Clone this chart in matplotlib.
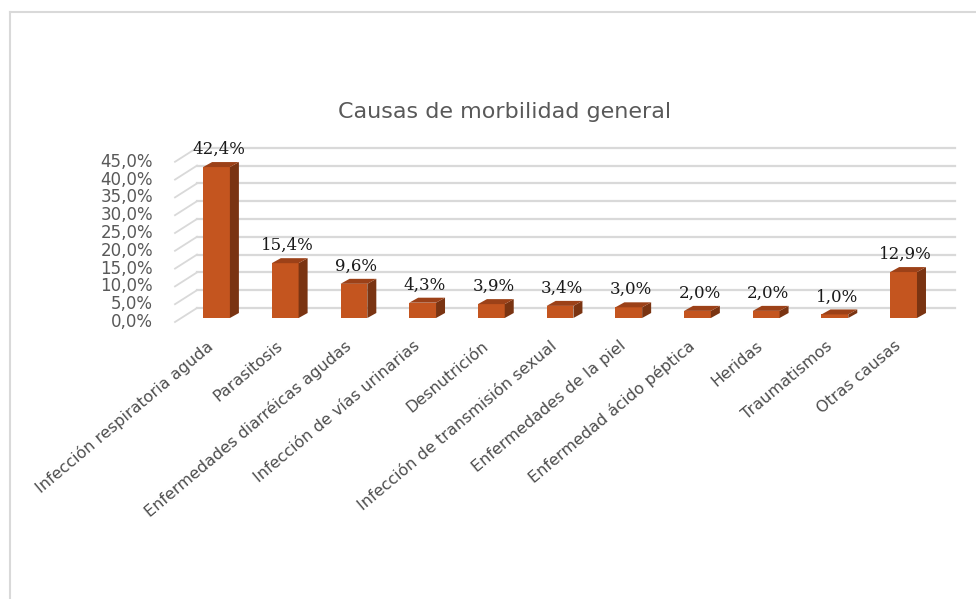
import numpy as np
import matplotlib
matplotlib.use("Agg")
import matplotlib.pyplot as plt
from matplotlib.patches import Polygon
from matplotlib.lines import Line2D
from matplotlib.transforms import IdentityTransform, offset_copy

# data
categorias = [
    "Infección respiratoria aguda",
    "Parasitosis",
    "Enfermedades diarréicas agudas",
    "Infección de vías urinarias",
    "Desnutrición",
    "Infección de transmisión sexual",
    "Enfermedades de la piel",
    "Enfermedad ácido péptica",
    "Heridas",
    "Traumatismos",
    "Otras causas",
]
porcentajes = [42.4, 15.4, 9.6, 4.3, 3.9, 3.4, 3.0, 2.0, 2.0, 1.0, 12.9]
yticks = [0, 5, 10, 15, 20, 25, 30, 35, 40, 45]

c_front = "#C4551F"
c_side = "#7A3412"
c_top = "#9C4118"
c_grid = "#D9D9D9"

W, H = 976, 599
fig = plt.figure(figsize=(W / 100, H / 100), dpi=100)
fig.patch.set_facecolor("white")

# axes = front face plane of the bars
ax = fig.add_axes([175 / W, (H - 318) / H, (940 - 175) / W, 160.2 / H])
ax.set_xlim(-0.604, 10.53)
ax.set_ylim(0, 45)
ax.patch.set_alpha(0)
for s in ax.spines.values():
    s.set_visible(False)
ax.set_xticks([])
ax.set_yticks([])

x = np.arange(len(categorias))
ancho = 0.39

# 3d offsets in pixels
bdx, bdy = 9, 5          # depth of the bars
wdx, wdy = 22, 10        # back wall
fdy = -4                 # front plane (labels)

px = ax.transData.transform
ident = IdentityTransform()

# back wall grid + diagonal side lines
x0, x1 = ax.get_xlim()
for v in yticks:
    (lx, ly), (rx, ry) = px([(x0, v), (x1, v)])
    ax.add_line(Line2D([lx, lx + wdx], [ly + fdy, ly + wdy], transform=ident,
                       color=c_grid, lw=1.3, zorder=0.5, clip_on=False))
    ax.add_line(Line2D([lx + wdx, rx + 15], [ly + wdy, ry + wdy], transform=ident,
                       color=c_grid, lw=1.6, zorder=0.5, clip_on=False))

# y labels on the front plane
tr_lab = offset_copy(ax.transData, fig=fig, x=-22, y=fdy, units="dots")
for v in yticks:
    ax.text(x0, v, f"{v:.1f}%".replace(".", ","), transform=tr_lab,
            ha="right", va="center", fontsize=12, color="#595959")

# bars
ax.bar(x, porcentajes, width=ancho, color=c_front, zorder=2)
for xi, v in zip(x, porcentajes):
    (l0, b0), (r1, t1) = px([(xi - ancho / 2, 0), (xi + ancho / 2, v)])
    lado = [(r1, b0), (r1, t1), (r1 + bdx, t1 + bdy), (r1 + bdx, b0 + bdy)]
    tapa = [(l0, t1), (r1, t1), (r1 + bdx, t1 + bdy), (l0 + bdx, t1 + bdy)]
    ax.add_patch(Polygon(lado, closed=True, transform=ident, facecolor=c_side,
                         edgecolor="none", zorder=2, clip_on=False))
    ax.add_patch(Polygon(tapa, closed=True, transform=ident, facecolor=c_top,
                         edgecolor="none", zorder=2, clip_on=False))
    ax.annotate(f"{v:.1f}%".replace(".", ","), (xi, v), xytext=(2, 13),
                textcoords="offset pixels", ha="center", va="baseline",
                family="DejaVu Serif", fontsize=12, color="#1A1A1A")

# category labels
tr_cat = offset_copy(ax.transData, fig=fig, x=-5, y=-26, units="dots")
for xi, cat in zip(x, categorias):
    ax.text(xi, 0, cat, transform=tr_cat, rotation=40, ha="right", va="center",
            rotation_mode="anchor", fontsize=11.5, color="#4D4D4D")

fig.text(505 / W, 1 - 112 / H, "Causas de morbilidad general", ha="center",
         va="center", fontsize=16, color="#595959")

# chart border (left and top visible)
fig.add_artist(Line2D([10 / W, 10 / W], [0, 1 - 12 / H], color=c_grid, lw=1.5))
fig.add_artist(Line2D([10 / W, 1], [1 - 12 / H, 1 - 12 / H], color=c_grid, lw=1.5))

fig.savefig("out.png", dpi=100, facecolor="white")
